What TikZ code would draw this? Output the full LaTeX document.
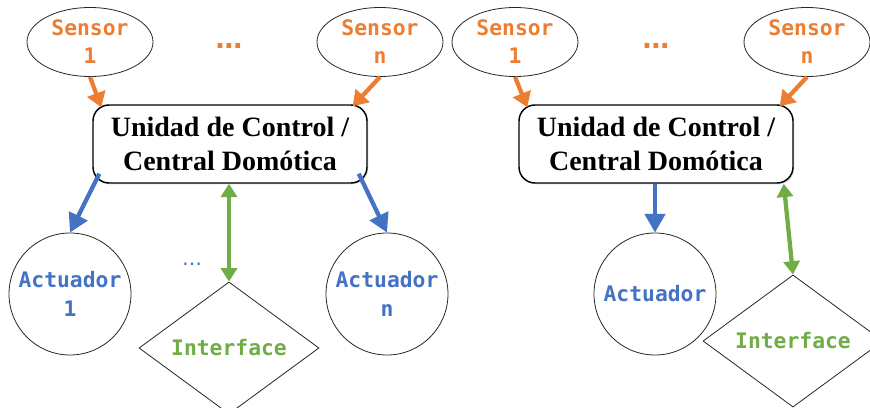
\documentclass[tikz,border=0pt]{standalone}
\usepackage{fontspec}
\setmainfont{Liberation Serif}
\newfontfamily\labelfont{DejaVu Sans Mono}
\newfontfamily\dotfont{DejaVu Sans}
\usetikzlibrary{shapes.geometric,arrows.meta,calc,shadows}

\definecolor{sensorc}{HTML}{ED7D31}
\definecolor{actc}{HTML}{4472C4}
\definecolor{ifacec}{HTML}{70AD47}

\tikzset{
  sensor/.style={ellipse, draw=black!85, line width=0.6pt, minimum width=94.5pt,
    minimum height=51.75pt, inner sep=0pt, align=center,
    font=\labelfont\bfseries\fontsize{16}{21}\selectfont, text=sensorc},
  ctrl/.style={rectangle, rounded corners=12pt, draw=black, line width=1.1pt, fill=white,
    minimum width=205.5pt, minimum height=58.5pt, align=center,
    font=\bfseries\fontsize{21}{25}\selectfont,
    drop shadow={opacity=0.25, shadow xshift=1pt, shadow yshift=-1pt}},
  act/.style={circle, draw=black!85, line width=0.6pt, minimum size=91.5pt, inner sep=0pt,
    align=center, font=\labelfont\bfseries\fontsize{16}{22}\selectfont, text=actc},
  iface/.style={diamond, draw=black!85, line width=0.6pt, minimum width=135pt,
    minimum height=87.75pt, inner sep=0pt,
    font=\labelfont\bfseries\fontsize{16}{21}\selectfont, text=ifacec},
  inarrow/.style={draw=sensorc, line width=3.2pt, -{Triangle[width=14pt,length=11pt]}},
  outarrow/.style={draw=actc, line width=3.2pt, -{Triangle[width=15pt,length=14pt]}},
  ioarrow/.style={draw=ifacec, line width=3.2pt,
    {Triangle[width=12pt,length=10pt]}-{Triangle[width=12pt,length=10pt]}},
  dotsorange/.style={text=sensorc, font=\dotfont\bfseries\fontsize{20}{20}\selectfont},
  dotsblue/.style={text=actc, font=\dotfont\fontsize{15}{15}\selectfont}
}

\begin{document}
\begin{tikzpicture}[x=0.75pt,y=-0.75pt]
  \clip (0,0) rectangle (870,407);
  \fill[white] (0,0) rectangle (870,407);

  % ---- system with several actuators ----
  \node[sensor] (s1) at (90,42) {Sensor\\1};
  \node[sensor] (sn) at (380,42) {Sensor\\n};
  \node[dotsorange] (d1) at (229,46) {…};
  \node[ctrl] (cu) at (230,144) {Unidad de Control /\\Central Domótica};
  \node[act] (a1) at (70,294) {Actuador\\1};
  \node[act] (an) at (387,294) {Actuador\\n};
  \node[dotsblue] (d2) at (192,264) {…};
  \node[iface] (if1) at (229,348) {Interface};

  \draw[inarrow] (s1.south) -- ($(cu.north west)+(9,3)$);
  \draw[inarrow] (sn.south) -- ($(cu.north east)+(-15,2)$);
  \draw[outarrow] ($(cu.south west)+(7,-10)$) -- (a1.north);
  \draw[outarrow] ($(cu.south east)+(-9,-10)$) -- (an.north);
  \draw[ioarrow] (cu.south -| if1.north) -- (if1.north);

  % ---- system with a single actuator ----
  \node[sensor] (t1) at (515,42) {Sensor\\1};
  \node[sensor] (tn) at (807,42) {Sensor\\n};
  \node[dotsorange] (d3) at (656,46) {…};
  \node[ctrl] (cv) at (656,144) {Unidad de Control /\\Central Domótica};
  \node[act] (b1) at (655,294) {Actuador};
  \node[iface] (if2) at (793,341) {Interface};

  \draw[inarrow] (t1.south) -- ($(cv.north west)+(9,3)$);
  \draw[inarrow] (tn.south) -- ($(cv.north east)+(-14,2)$);
  \draw[outarrow] (cv.south -| b1.north) -- (b1.north);
  \draw[ioarrow] ($(cv.south east)+(-10,0)$) -- (if2.north);
\end{tikzpicture}
\end{document}
